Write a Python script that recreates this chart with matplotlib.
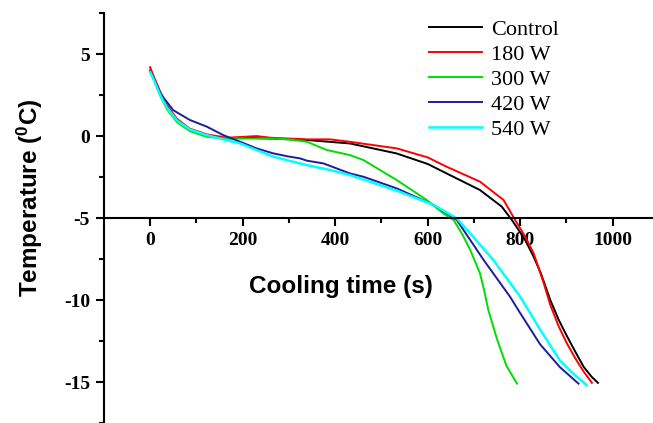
import matplotlib
matplotlib.use("Agg")
import matplotlib.pyplot as plt
from matplotlib.ticker import MultipleLocator

plt.rcParams['axes.unicode_minus'] = False
plt.rcParams['mathtext.fontset'] = 'custom'
plt.rcParams['mathtext.rm'] = 'Liberation Sans:bold'
plt.rcParams['mathtext.default'] = 'regular'

# data (time in s, temperature in degC)
ctrl_t = [0, 7, 22, 36, 58, 86, 123, 166, 200, 260, 339, 432, 533, 600, 641, 713, 760, 782,
          810, 829, 845, 865, 883, 901, 920, 937, 955, 968]
ctrl_y = [4.0, 3.6, 2.6, 1.8, 0.98, 0.37, 0.0, -0.15, -0.1, -0.15, -0.24, -0.45, -1.06, -1.7,
          -2.28, -3.29, -4.3, -5.12, -6.3, -7.36, -8.4, -10.0, -11.2, -12.2, -13.2, -14.07, -14.7, -15.05]

w180_t = [0, 7, 22, 36, 58, 86, 123, 166, 200, 230, 260, 300, 339, 389, 432, 533, 600, 641, 713,
          764, 789, 810, 829, 850, 865, 883, 901, 920, 938, 955]
w180_y = [4.2, 3.7, 2.7, 1.9, 1.05, 0.45, 0.1, -0.1, -0.05, 0.0, -0.1, -0.15, -0.2, -0.2, -0.35,
          -0.75, -1.3, -1.87, -2.78, -3.9, -5.12, -6.1, -7.15, -8.9, -10.3, -11.6, -12.65, -13.6, -14.4, -15.05]

w300_t = [0, 7, 22, 36, 58, 86, 123, 166, 200, 260, 300, 339, 382, 432, 461, 533, 598, 634, 656,
          675, 692, 713, 722, 731, 750, 770, 793]
w300_y = [3.95, 3.5, 2.45, 1.65, 0.85, 0.3, -0.05, -0.15, -0.15, -0.15, -0.2, -0.35, -0.85, -1.16,
          -1.46, -2.68, -3.9, -4.72, -5.12, -6.0, -6.95, -8.37, -9.4, -10.6, -12.4, -14.0, -15.1]

w420_t = [0, 7, 22, 50, 86, 123, 158, 195, 230, 267, 300, 324, 339, 375, 432, 461, 533, 613, 663,
          721, 778, 800, 843, 886, 910, 926]
w420_y = [3.95, 3.55, 2.6, 1.58, 0.98, 0.57, 0.06, -0.35, -0.75, -1.06, -1.25, -1.36, -1.5, -1.67,
          -2.28, -2.48, -3.19, -4.2, -5.12, -7.56, -9.8, -10.8, -12.7, -14.1, -14.7, -15.1]

w540_t = [0, 7, 22, 36, 58, 86, 123, 158, 195, 230, 267, 300, 339, 389, 432, 533, 613, 663, 700,
          742, 800, 843, 886, 915, 944]
w540_y = [3.9, 3.5, 2.5, 1.75, 0.95, 0.4, 0.05, -0.2, -0.45, -0.85, -1.26, -1.5, -1.77, -2.07,
          -2.38, -3.33, -4.2, -5.02, -6.2, -7.56, -9.8, -11.8, -13.7, -14.5, -15.2]

fig = plt.figure(figsize=(6.53, 4.23), dpi=100)
ax = fig.add_axes([0.159, 0.0, 0.841, 0.969])

ax.plot(ctrl_t, ctrl_y, color='black', lw=1.4, label='Control')
ax.plot(w180_t, w180_y, color='#ff0000', lw=1.4, label='180 W')
ax.plot(w300_t, w300_y, color='#00dd00', lw=1.4, label='300 W')
ax.plot(w420_t, w420_y, color='#1c1ca0', lw=1.4, label='420 W')
ax.plot(w540_t, w540_y, color='#00ffff', lw=1.8, label='540 W')

ax.set_xlim(-100, 1087)
ax.set_ylim(-17.5, 7.5)

ax.spines['top'].set_visible(False)
ax.spines['right'].set_visible(False)
ax.spines['bottom'].set_position(('data', -5))
ax.spines['bottom'].set_linewidth(1.5)
ax.spines['left'].set_linewidth(1.5)

ax.yaxis.set_major_locator(MultipleLocator(5))
ax.yaxis.set_minor_locator(MultipleLocator(2.5))
ax.set_xticks([0, 200, 400, 600, 800, 1000])
ax.set_xticks([100, 300, 500, 700, 900], minor=True)
ax.tick_params(which='major', length=6, width=1.5, direction='out', pad=4)
ax.tick_params(which='minor', length=3.5, width=1.5, direction='out')

for lab in ax.get_xticklabels() + ax.get_yticklabels():
    lab.set_family('Liberation Serif')
    lab.set_fontweight('bold')
    lab.set_fontsize(14)

fig.text(0.522, 1 - 293 / 423, 'Cooling time (s)', ha='center', va='baseline',
         family='Liberation Sans', fontweight='bold', fontsize=17.5)
fig.text(30 / 653, 1 - 198 / 423, r'Temperature ($^{0}$C)', ha='center', va='center',
         rotation=90, family='Liberation Sans', fontweight='bold', fontsize=17.5)

ax.legend(loc='upper left', bbox_to_anchor=(418 / 653, 1 - 8 / 423), bbox_transform=fig.transFigure,
          frameon=False, borderpad=0, handlelength=2.4, handletextpad=0.4, labelspacing=0.2,
          prop={'family': 'Liberation Serif', 'size': 16})

fig.savefig('out.png', dpi=100)
